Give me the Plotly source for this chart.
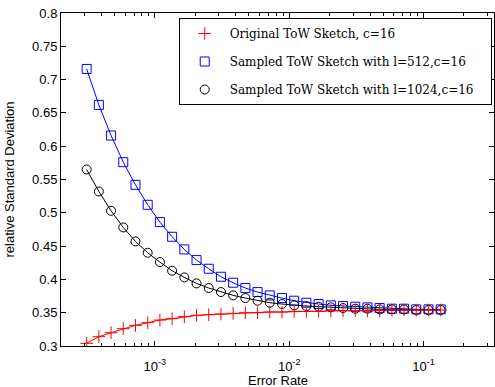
import plotly.graph_objects as go

error_rate = [3.105e-4, 3.827e-4, 4.719e-4, 5.817e-4, 7.17e-4, 8.84e-4, 1.090e-3, 1.344e-3,
              1.657e-3, 2.042e-3, 2.518e-3, 3.104e-3, 3.826e-3, 4.717e-3, 5.815e-3, 7.17e-3,
              8.84e-3, 1.090e-2, 1.343e-2, 1.656e-2, 2.042e-2, 2.517e-2, 3.103e-2, 3.826e-2,
              4.716e-2, 5.814e-2, 7.168e-2, 8.837e-2, 0.1089, 0.1343]

original_c16 = [0.304, 0.314, 0.320, 0.326, 0.331, 0.335, 0.339, 0.341, 0.344, 0.346,
                0.347, 0.348, 0.349, 0.350, 0.350, 0.351, 0.351, 0.352, 0.352, 0.352,
                0.353, 0.353, 0.353, 0.353, 0.353, 0.354, 0.354, 0.354, 0.354, 0.354]

sampled_l512 = [0.716, 0.662, 0.616, 0.576, 0.542, 0.512, 0.486, 0.464, 0.445, 0.429,
                0.416, 0.404, 0.395, 0.387, 0.381, 0.376, 0.372, 0.368, 0.365, 0.363,
                0.361, 0.360, 0.359, 0.358, 0.357, 0.356, 0.356, 0.355, 0.355, 0.355]

sampled_l1024 = [0.565, 0.532, 0.503, 0.478, 0.457, 0.440, 0.426, 0.413, 0.403, 0.394,
                 0.387, 0.381, 0.376, 0.372, 0.368, 0.365, 0.363, 0.361, 0.360, 0.359,
                 0.358, 0.357, 0.356, 0.356, 0.355, 0.355, 0.355, 0.354, 0.354, 0.354]

names = ["Original ToW Sketch, c=16",
         "Sampled ToW Sketch with l=512,c=16",
         "Sampled ToW Sketch with l=1024,c=16"]

x_tickvals = [1e-3, 1e-2, 1e-1]
x_ticktext = ["10<sup>-3</sup>", "10<sup>-2</sup>", "10<sup>-1</sup>"]
x_minor_ticks = [3e-4, 4e-4, 5e-4, 6e-4, 7e-4, 8e-4, 9e-4,
                 2e-3, 3e-3, 4e-3, 5e-3, 6e-3, 7e-3, 8e-3, 9e-3,
                 2e-2, 3e-2, 4e-2, 5e-2, 6e-2, 7e-2, 8e-2, 9e-2,
                 2e-1, 3e-1]

x_title = "Error Rate"
y_title = "relative Standard Deviation"

# small invisible right padding inside the legend box (Matlab-style wide legend)
pad = "\u00a0" * 3
legend_names = [n + pad for n in names]

fig = go.Figure()

# lines (no legend)
fig.add_trace(go.Scatter(x=error_rate, y=sampled_l512, mode="lines",
                         line=dict(color="#0000ff", width=1), showlegend=False, hoverinfo="skip"))
fig.add_trace(go.Scatter(x=error_rate, y=sampled_l1024, mode="lines",
                         line=dict(color="#000000", width=1), showlegend=False, hoverinfo="skip"))
fig.add_trace(go.Scatter(x=error_rate, y=original_c16, mode="lines",
                         line=dict(color="#ff0000", width=1), showlegend=False, hoverinfo="skip"))

# markers (legend)
fig.add_trace(go.Scatter(x=error_rate, y=sampled_l512, mode="markers", name=legend_names[1],
                         legendrank=2, legendgroup="b",
                         marker=dict(symbol="square-open", size=9, color="#0000ff",
                                     line=dict(width=1, color="#0000ff"))))
fig.add_trace(go.Scatter(x=error_rate, y=sampled_l1024, mode="markers", name=legend_names[2],
                         legendrank=3, legendgroup="c",
                         marker=dict(symbol="circle-open", size=9, color="#000000",
                                     line=dict(width=1, color="#000000"))))
fig.add_trace(go.Scatter(x=error_rate, y=original_c16, mode="markers", name=legend_names[0],
                         legendrank=1, legendgroup="a",
                         marker=dict(symbol="cross-thin-open", size=9, color="#ff0000",
                                     line=dict(width=1, color="#ff0000"))))

axis_font = dict(family="Liberation Sans, Arial, sans-serif", size=13, color="#000000")

fig.update_layout(
    width=495, height=387,
    margin=dict(l=61, r=1, t=13, b=41, autoexpand=False),
    paper_bgcolor="white", plot_bgcolor="white",
    font=axis_font,
    showlegend=True,
    legend=dict(
        x=0.9947, y=0.985, xanchor="right", yanchor="top",
        bgcolor="white", bordercolor="black", borderwidth=1,
        font=dict(family="DejaVu Serif, serif", size=12, color="#000000"),
        itemwidth=40, tracegroupgap=9, traceorder="grouped",
    ),
    xaxis=dict(
        type="log", range=[-3.699, -0.475], automargin=False,
        tickmode="array", tickvals=x_tickvals, ticktext=x_ticktext,
        ticks="inside", ticklen=5, tickwidth=1, tickcolor="black",
        ticklabelstandoff=8,
        showline=True, linecolor="black", linewidth=1, mirror="allticks",
        showgrid=False, zeroline=False,
        minor=dict(ticks="inside", ticklen=3, tickmode="array", tickvals=x_minor_ticks,
                   tickcolor="black", showgrid=False),
        tickfont=axis_font,
    ),
    yaxis=dict(
        range=[0.3, 0.8], tick0=0.3, dtick=0.05, automargin=False,
        ticks="inside", ticklen=5, tickwidth=1, tickcolor="black",
        showline=True, linecolor="black", linewidth=1, mirror="allticks",
        showgrid=False, zeroline=False,
        tickfont=axis_font,
    ),
    annotations=[
        dict(text=x_title, xref="paper", yref="paper", x=0.5, y=-0.104,
             xanchor="center", yanchor="middle", showarrow=False, font=axis_font),
        dict(text=y_title, xref="paper", yref="paper", x=-0.12, y=0.5, textangle=-90,
             xanchor="center", yanchor="middle", showarrow=False, font=axis_font),
    ],
)

fig.write_html("out.html", config={"displayModeBar": False},
               post_script="document.body.style.margin='0';document.body.style.padding='0';")
